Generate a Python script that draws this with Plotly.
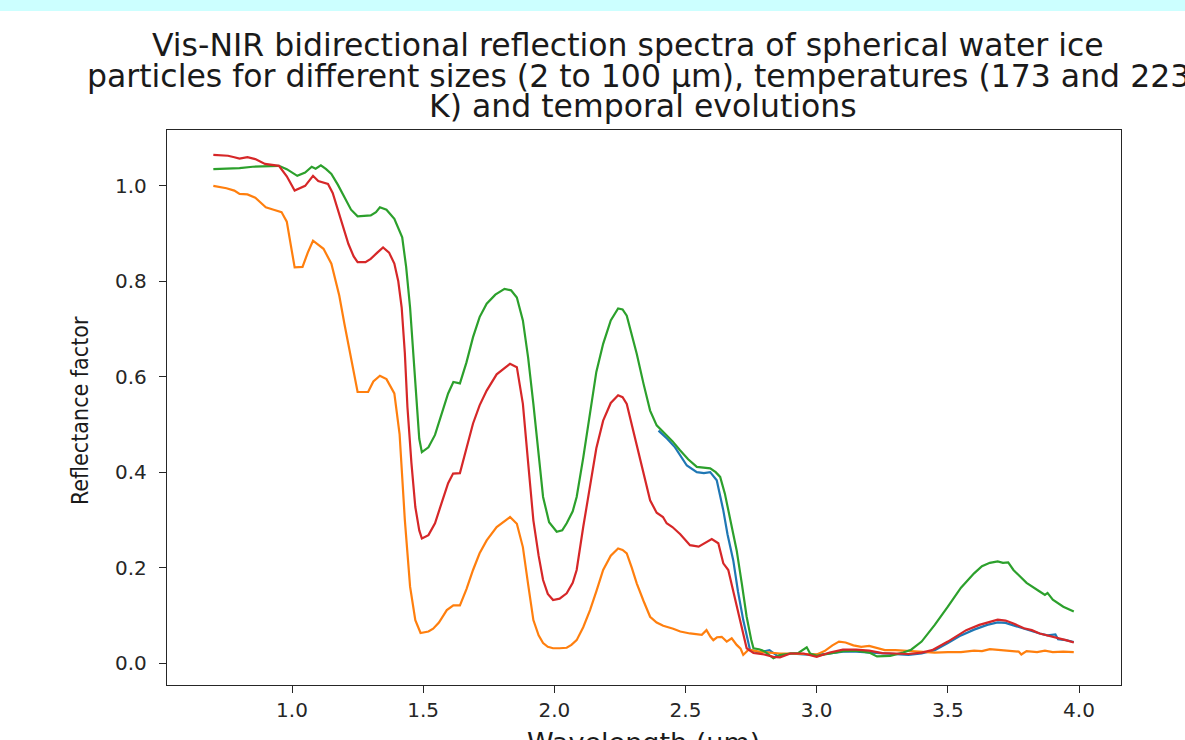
import plotly.graph_objects as go

# ---------------- data ----------------
wl_blue = [2.397, 2.43, 2.46, 2.505, 2.543, 2.57, 2.594, 2.619, 2.644, 2.66, 2.682, 2.70, 2.72, 2.746,
           2.78, 2.82, 2.85, 2.90, 2.95, 3.00, 3.05, 3.10, 3.15, 3.20, 3.25, 3.30, 3.35, 3.40, 3.45,
           3.50, 3.55, 3.60, 3.65, 3.69, 3.72, 3.75, 3.80, 3.85, 3.88, 3.91, 3.92, 3.95, 3.98]
refl_blue = [0.487, 0.470, 0.452, 0.414, 0.400, 0.398, 0.400, 0.383, 0.320, 0.270, 0.215, 0.150, 0.090, 0.027,
             0.022, 0.027, 0.015, 0.020, 0.018, 0.017, 0.020, 0.024, 0.024, 0.022, 0.020, 0.019, 0.017, 0.020, 0.027,
             0.042, 0.058, 0.070, 0.080, 0.085, 0.084, 0.079, 0.070, 0.062, 0.058, 0.060, 0.050, 0.048, 0.044]

wl_orange = [0.70, 0.75, 0.78, 0.80, 0.83, 0.86, 0.88, 0.90, 0.93, 0.96, 0.98, 1.00, 1.01, 1.04, 1.06, 1.08,
             1.10, 1.12, 1.15, 1.18, 1.20, 1.23, 1.25, 1.29, 1.31, 1.335, 1.36, 1.39, 1.41, 1.43, 1.45, 1.47,
             1.49, 1.52, 1.538, 1.56, 1.59, 1.615, 1.64, 1.665, 1.69, 1.715, 1.742, 1.78, 1.831, 1.857, 1.88,
             1.90, 1.92, 1.94, 1.957, 1.975, 1.995, 2.02, 2.047, 2.065, 2.085, 2.11, 2.136, 2.16, 2.186, 2.215,
             2.243, 2.26, 2.276, 2.295, 2.314, 2.34, 2.365, 2.39, 2.415, 2.453, 2.48, 2.517, 2.562, 2.58, 2.595,
             2.606, 2.62, 2.638, 2.657, 2.676, 2.695, 2.71, 2.72, 2.74, 2.78, 2.82, 2.86, 2.90, 2.95, 3.00, 3.03,
             3.06, 3.085, 3.11, 3.14, 3.17, 3.20, 3.23, 3.26, 3.30, 3.35, 3.40, 3.45, 3.50, 3.55, 3.60, 3.63,
             3.66, 3.70, 3.74, 3.77, 3.78, 3.80, 3.84, 3.87, 3.90, 3.94, 3.98]
refl_orange = [1.000, 0.995, 0.990, 0.983, 0.982, 0.975, 0.965, 0.955, 0.950, 0.945, 0.925, 0.860, 0.829, 0.830,
               0.860, 0.885, 0.876, 0.868, 0.837, 0.770, 0.710, 0.620, 0.568, 0.568, 0.590, 0.602, 0.595, 0.565,
               0.480, 0.300, 0.160, 0.090, 0.063, 0.066, 0.072, 0.085, 0.111, 0.121, 0.121, 0.155, 0.195, 0.230,
               0.257, 0.285, 0.306, 0.292, 0.243, 0.165, 0.090, 0.058, 0.042, 0.034, 0.031, 0.031, 0.032, 0.038,
               0.048, 0.075, 0.111, 0.150, 0.195, 0.225, 0.240, 0.237, 0.230, 0.200, 0.167, 0.130, 0.097, 0.085,
               0.078, 0.072, 0.066, 0.062, 0.059, 0.069, 0.055, 0.048, 0.054, 0.055, 0.045, 0.052, 0.038, 0.030,
               0.017, 0.028, 0.024, 0.022, 0.020, 0.020, 0.019, 0.018, 0.025, 0.037, 0.045, 0.043, 0.037, 0.034,
               0.036, 0.032, 0.027, 0.027, 0.025, 0.023, 0.022, 0.023, 0.023, 0.026, 0.025, 0.029, 0.027, 0.026,
               0.024, 0.018, 0.025, 0.023, 0.026, 0.023, 0.024, 0.023]

wl_green = [0.70, 0.75, 0.80, 0.85, 0.90, 0.95, 0.98, 1.02, 1.05, 1.075, 1.09, 1.11, 1.13, 1.15, 1.175, 1.20,
            1.225, 1.25, 1.27, 1.30, 1.32, 1.335, 1.36, 1.39, 1.42, 1.435, 1.45, 1.465, 1.475, 1.485, 1.495,
            1.52, 1.545, 1.57, 1.595, 1.615, 1.64, 1.665, 1.69, 1.715, 1.742, 1.775, 1.81, 1.835, 1.857, 1.88,
            1.90, 1.92, 1.94, 1.957, 1.98, 2.009, 2.03, 2.047, 2.07, 2.085, 2.11, 2.136, 2.16, 2.186, 2.215,
            2.243, 2.26, 2.276, 2.295, 2.314, 2.34, 2.365, 2.39, 2.42, 2.45, 2.479, 2.51, 2.543, 2.57, 2.594,
            2.615, 2.632, 2.65, 2.663, 2.68, 2.695, 2.715, 2.733, 2.75, 2.759, 2.78, 2.80, 2.835, 2.86, 2.90,
            2.93, 2.962, 2.975, 3.00, 3.05, 3.10, 3.15, 3.20, 3.23, 3.28, 3.33, 3.36, 3.40, 3.45, 3.50, 3.55,
            3.60, 3.63, 3.66, 3.69, 3.71, 3.73, 3.75, 3.80, 3.85, 3.87, 3.88, 3.90, 3.94, 3.98]
refl_green = [1.035, 1.036, 1.037, 1.040, 1.041, 1.042, 1.035, 1.021, 1.028, 1.040, 1.036, 1.043, 1.035, 1.025,
              1.002, 0.976, 0.950, 0.936, 0.937, 0.938, 0.945, 0.955, 0.950, 0.931, 0.892, 0.830, 0.745, 0.630,
              0.536, 0.470, 0.442, 0.452, 0.478, 0.520, 0.565, 0.589, 0.586, 0.630, 0.683, 0.725, 0.753, 0.772,
              0.784, 0.781, 0.766, 0.718, 0.640, 0.543, 0.435, 0.348, 0.295, 0.275, 0.278, 0.293, 0.318, 0.348,
              0.430, 0.529, 0.610, 0.669, 0.718, 0.743, 0.741, 0.728, 0.690, 0.648, 0.585, 0.529, 0.498, 0.482,
              0.465, 0.446, 0.427, 0.411, 0.409, 0.408, 0.400, 0.390, 0.355, 0.320, 0.275, 0.236, 0.165, 0.097,
              0.050, 0.031, 0.029, 0.025, 0.010, 0.017, 0.020, 0.021, 0.033, 0.020, 0.015, 0.020, 0.025, 0.026,
              0.022, 0.014, 0.015, 0.022, 0.028, 0.045, 0.080, 0.118, 0.158, 0.188, 0.203, 0.210, 0.213, 0.210,
              0.211, 0.195, 0.168, 0.150, 0.143, 0.147, 0.133, 0.118, 0.108]

wl_red = [0.70, 0.756, 0.78, 0.80, 0.83, 0.86, 0.897, 0.95, 0.98, 1.01, 1.05, 1.08, 1.10, 1.137, 1.155, 1.175,
          1.215, 1.235, 1.25, 1.28, 1.30, 1.325, 1.347, 1.37, 1.39, 1.405, 1.418, 1.43, 1.44, 1.455, 1.47,
          1.485, 1.495, 1.52, 1.545, 1.57, 1.595, 1.614, 1.64, 1.665, 1.69, 1.715, 1.742, 1.78, 1.831, 1.857,
          1.88, 1.90, 1.92, 1.94, 1.957, 1.975, 1.995, 2.02, 2.047, 2.07, 2.085, 2.11, 2.136, 2.16, 2.186,
          2.215, 2.243, 2.26, 2.276, 2.295, 2.314, 2.34, 2.365, 2.39, 2.414, 2.428, 2.45, 2.48, 2.517, 2.55,
          2.575, 2.60, 2.625, 2.644, 2.663, 2.68, 2.695, 2.715, 2.733, 2.759, 2.80, 2.835, 2.86, 2.90, 2.95,
          3.00, 3.05, 3.10, 3.15, 3.20, 3.25, 3.30, 3.35, 3.40, 3.44, 3.50, 3.57, 3.62, 3.66, 3.69, 3.72,
          3.75, 3.79, 3.82, 3.85, 3.88, 3.92, 3.95, 3.98]
refl_red = [1.065, 1.063, 1.060, 1.057, 1.060, 1.056, 1.046, 1.042, 1.020, 0.990, 1.000, 1.021, 1.010, 1.004,
            0.985, 0.948, 0.878, 0.852, 0.840, 0.840, 0.847, 0.860, 0.871, 0.860, 0.837, 0.800, 0.745, 0.650,
            0.536, 0.420, 0.327, 0.278, 0.261, 0.268, 0.293, 0.335, 0.377, 0.397, 0.398, 0.450, 0.502, 0.540,
            0.571, 0.605, 0.627, 0.620, 0.543, 0.420, 0.299, 0.225, 0.174, 0.145, 0.132, 0.135, 0.146, 0.168,
            0.195, 0.285, 0.376, 0.450, 0.508, 0.545, 0.561, 0.557, 0.543, 0.500, 0.452, 0.395, 0.341, 0.315,
            0.306, 0.293, 0.285, 0.270, 0.247, 0.244, 0.252, 0.260, 0.251, 0.209, 0.195, 0.155, 0.118, 0.070,
            0.031, 0.021, 0.018, 0.013, 0.012, 0.020, 0.020, 0.013, 0.022, 0.028, 0.028, 0.026, 0.021, 0.020,
            0.019, 0.022, 0.027, 0.045, 0.069, 0.080, 0.087, 0.091, 0.089, 0.083, 0.073, 0.069, 0.062, 0.058,
            0.052, 0.048, 0.043]

x_ticks = [1.0, 1.5, 2.0, 2.5, 3.0, 3.5, 4.0]
y_ticks = [0.0, 0.2, 0.4, 0.6, 0.8, 1.0]

title_lines = [
    "Vis-NIR bidirectional reflection spectra of spherical water ice",
    "particles for different sizes (2 to 100 µm), temperatures (173 and 223",
    "K) and temporal evolutions",
]

# ---------------- figure ----------------
W, H = 1185, 740
L, R, T, B = 167, 64, 130, 55
plot_h = H - T - B

fig = go.Figure()
series = [
    (wl_blue, refl_blue, "#1f77b4"),
    (wl_orange, refl_orange, "#ff7f0e"),
    (wl_green, refl_green, "#2ca02c"),
    (wl_red, refl_red, "#d62728"),
]
for xs, ys, c in series:
    fig.add_trace(go.Scatter(x=xs, y=ys, mode="lines",
                             line=dict(color=c, width=2.2), showlegend=False))

axis_common = dict(showgrid=False, zeroline=False, showline=True, mirror=True,
                   linecolor="#262626", linewidth=1.4, ticks="outside", ticklen=7,
                   tickwidth=1.3, tickcolor="#262626",
                   tickfont=dict(family="DejaVu Sans", size=20, color="#262626"))

fig.update_xaxes(range=[0.5234, 4.160], tickvals=x_ticks,
                 ticktext=[f"{v:.1f}" for v in x_ticks], **axis_common)
fig.update_yaxes(range=[-0.046, 1.117], tickvals=y_ticks,
                 ticktext=[f"{v:.1f}" for v in y_ticks], ticklabelstandoff=8, **axis_common)


def py2paper(py):
    return (H - B - py) / plot_h


def px2paper(px):
    return (px - L) / (W - L - R)


annotations = []
title_pos = [(628, 45, "center"), (85, 76, "left"), (643, 106, "center")]
for text, (px, py, anchor) in zip(title_lines, title_pos):
    annotations.append(dict(text=text, xref="paper", yref="paper",
                            x=px2paper(px), y=py2paper(py), xanchor=anchor, yanchor="middle",
                            showarrow=False,
                            font=dict(family="DejaVu Sans", size=31.5, color="#1a1a1a")))

annotations.append(dict(text="Reflectance factor", xref="paper", yref="paper",
                        x=px2paper(80), y=py2paper(411), xanchor="center", yanchor="middle",
                        textangle=-90, showarrow=False,
                        font=dict(family="Liberation Sans Narrow, DejaVu Sans Condensed, DejaVu Sans",
                                  size=23, color="#1a1a1a")))
annotations.append(dict(text="Wavelength (µm)", xref="paper", yref="paper",
                        x=px2paper(643), y=py2paper(725), xanchor="center", yanchor="top",
                        showarrow=False,
                        font=dict(family="DejaVu Sans", size=27, color="#1a1a1a")))

fig.update_layout(
    width=W, height=H,
    margin=dict(l=L, r=R, t=T, b=B, pad=0),
    paper_bgcolor="white", plot_bgcolor="white",
    annotations=annotations,
    shapes=[dict(type="rect", xref="paper", yref="paper",
                 x0=px2paper(0), x1=px2paper(W), y0=py2paper(11), y1=py2paper(0),
                 fillcolor="#ccffff", line=dict(width=0), layer="below")],
)

fig.write_html("out.html",
               config={"displayModeBar": False},
               post_script="document.body.style.margin='0';document.body.style.overflow='hidden';")
